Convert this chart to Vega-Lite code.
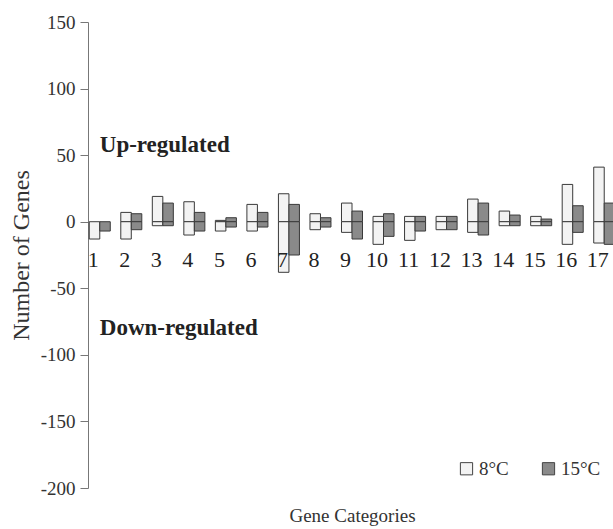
{
  "$schema": "https://vega.github.io/schema/vega-lite/v6.json",
  "width": 536,
  "height": 466,
  "autosize": {"type": "none"},
  "padding": {"left": 84, "top": 22, "right": 0, "bottom": 41},
  "background": "white",
  "config": {
    "view": {"stroke": null},
    "font": "Liberation Serif",
    "text": {"font": "Liberation Serif", "color": "#222"}
  },
  "layer": [
    {
      "data": {
        "values": [
          {"cat": 1, "temp": "8°C", "val": -13},
          {"cat": 1, "temp": "15°C", "val": -7},
          {"cat": 2, "temp": "8°C", "val": 7},
          {"cat": 2, "temp": "8°C", "val": -13},
          {"cat": 2, "temp": "15°C", "val": 6},
          {"cat": 2, "temp": "15°C", "val": -6},
          {"cat": 3, "temp": "8°C", "val": 19},
          {"cat": 3, "temp": "8°C", "val": -3},
          {"cat": 3, "temp": "15°C", "val": 14},
          {"cat": 3, "temp": "15°C", "val": -3},
          {"cat": 4, "temp": "8°C", "val": 15},
          {"cat": 4, "temp": "8°C", "val": -10},
          {"cat": 4, "temp": "15°C", "val": 7},
          {"cat": 4, "temp": "15°C", "val": -7},
          {"cat": 5, "temp": "8°C", "val": 1},
          {"cat": 5, "temp": "8°C", "val": -7},
          {"cat": 5, "temp": "15°C", "val": 3},
          {"cat": 5, "temp": "15°C", "val": -4},
          {"cat": 6, "temp": "8°C", "val": 13},
          {"cat": 6, "temp": "8°C", "val": -7},
          {"cat": 6, "temp": "15°C", "val": 7},
          {"cat": 6, "temp": "15°C", "val": -4},
          {"cat": 7, "temp": "8°C", "val": 21},
          {"cat": 7, "temp": "8°C", "val": -38},
          {"cat": 7, "temp": "15°C", "val": 13},
          {"cat": 7, "temp": "15°C", "val": -25},
          {"cat": 8, "temp": "8°C", "val": 6},
          {"cat": 8, "temp": "8°C", "val": -6},
          {"cat": 8, "temp": "15°C", "val": 3},
          {"cat": 8, "temp": "15°C", "val": -4},
          {"cat": 9, "temp": "8°C", "val": 14},
          {"cat": 9, "temp": "8°C", "val": -8},
          {"cat": 9, "temp": "15°C", "val": 8},
          {"cat": 9, "temp": "15°C", "val": -13},
          {"cat": 10, "temp": "8°C", "val": 4},
          {"cat": 10, "temp": "8°C", "val": -17},
          {"cat": 10, "temp": "15°C", "val": 6},
          {"cat": 10, "temp": "15°C", "val": -11},
          {"cat": 11, "temp": "8°C", "val": 4},
          {"cat": 11, "temp": "8°C", "val": -14},
          {"cat": 11, "temp": "15°C", "val": 4},
          {"cat": 11, "temp": "15°C", "val": -7},
          {"cat": 12, "temp": "8°C", "val": 4},
          {"cat": 12, "temp": "8°C", "val": -6},
          {"cat": 12, "temp": "15°C", "val": 4},
          {"cat": 12, "temp": "15°C", "val": -6},
          {"cat": 13, "temp": "8°C", "val": 17},
          {"cat": 13, "temp": "8°C", "val": -8},
          {"cat": 13, "temp": "15°C", "val": 14},
          {"cat": 13, "temp": "15°C", "val": -10},
          {"cat": 14, "temp": "8°C", "val": 8},
          {"cat": 14, "temp": "8°C", "val": -3},
          {"cat": 14, "temp": "15°C", "val": 5},
          {"cat": 14, "temp": "15°C", "val": -3},
          {"cat": 15, "temp": "8°C", "val": 4},
          {"cat": 15, "temp": "8°C", "val": -3},
          {"cat": 15, "temp": "15°C", "val": 2},
          {"cat": 15, "temp": "15°C", "val": -3},
          {"cat": 16, "temp": "8°C", "val": 28},
          {"cat": 16, "temp": "8°C", "val": -17},
          {"cat": 16, "temp": "15°C", "val": 12},
          {"cat": 16, "temp": "15°C", "val": -8},
          {"cat": 17, "temp": "8°C", "val": 41},
          {"cat": 17, "temp": "8°C", "val": -16},
          {"cat": 17, "temp": "15°C", "val": 14},
          {"cat": 17, "temp": "15°C", "val": -17}
        ]
      },
      "mark": {"type": "bar", "stroke": "#3a3a3a", "strokeWidth": 1},
      "encoding": {
        "x": {
          "field": "cat",
          "type": "ordinal",
          "scale": {"domain": [1,2,3,4,5,6,7,8,9,10,11,12,13,14,15,16,17], "paddingInner": 0.3333, "paddingOuter": 0.1667},
          "axis": {"labels": false, "ticks": false, "domain": false, "title": "Gene Categories", "titleFont": "Liberation Serif", "titleFontSize": 19, "titleFontWeight": "normal", "titleColor": "#333", "titlePadding": 18}
        },
        "xOffset": {"field": "temp", "type": "nominal", "scale": {"domain": ["8°C", "15°C"], "paddingInner": 0, "paddingOuter": 0}},
        "y": {
          "field": "val",
          "type": "quantitative",
          "scale": {"domain": [-200, 150], "nice": false},
          "axis": {
            "values": [-200, -150, -100, -50, 0, 50, 100, 150],
            "labelExpr": "replace(datum.label, '\u2212', '-')",
            "grid": false,
            "offset": -4,
            "domainColor": "#777",
            "tickColor": "#777",
            "tickSize": 8,
            "labelPadding": 5,
            "labelFont": "Liberation Serif",
            "labelFontSize": 19,
            "labelColor": "#333",
            "title": "Number of Genes",
            "titleFont": "Liberation Serif",
            "titleFontSize": 24,
            "titleFontWeight": "normal",
            "titleColor": "#333",
            "titlePadding": 7
          }
        },
        "color": {
          "field": "temp",
          "type": "nominal",
          "scale": {"domain": ["8°C", "15°C"], "range": ["#f3f3f3", "#8a8a8a"]},
          "legend": {
            "title": null,
            "orient": "none",
            "legendX": 373,
            "legendY": 437,
            "direction": "horizontal",
            "symbolType": "square",
            "symbolSize": 150,
            "symbolStrokeColor": "#444",
            "symbolStrokeWidth": 1,
            "symbolOpacity": 1,
            "labelFont": "Liberation Serif",
            "labelFontSize": 19,
            "labelColor": "#333",
            "labelOffset": 3,
            "columnPadding": 30
          }
        }
      }
    },
    {
      "mark": {"type": "rule", "color": "#555", "strokeWidth": 1},
      "encoding": {"y": {"datum": 0, "type": "quantitative"}}
    },
    {
      "data": {
        "values": [
          {"cat": 1}, {"cat": 2}, {"cat": 3}, {"cat": 4}, {"cat": 5}, {"cat": 6},
          {"cat": 7}, {"cat": 8}, {"cat": 9}, {"cat": 10}, {"cat": 11}, {"cat": 12},
          {"cat": 13}, {"cat": 14}, {"cat": 15}, {"cat": 16}, {"cat": 17}
        ]
      },
      "mark": {"type": "text", "fontSize": 22, "baseline": "alphabetic", "align": "center", "dx": -6.5, "dy": 45.5, "color": "#222"},
      "encoding": {
        "x": {"field": "cat", "type": "ordinal"},
        "y": {"datum": 0, "type": "quantitative"},
        "text": {"field": "cat", "type": "nominal"}
      }
    },
    {
      "data": {
        "values": [
          {"label": "Up-regulated", "v": 52.2},
          {"label": "Down-regulated", "v": -85.3}
        ]
      },
      "mark": {"type": "text", "fontSize": 23, "fontWeight": "bold", "baseline": "alphabetic", "align": "left", "color": "#222"},
      "encoding": {
        "x": {"datum": 1, "type": "ordinal"},
        "y": {"field": "v", "type": "quantitative"},
        "text": {"field": "label", "type": "nominal"}
      }
    }
  ]
}
